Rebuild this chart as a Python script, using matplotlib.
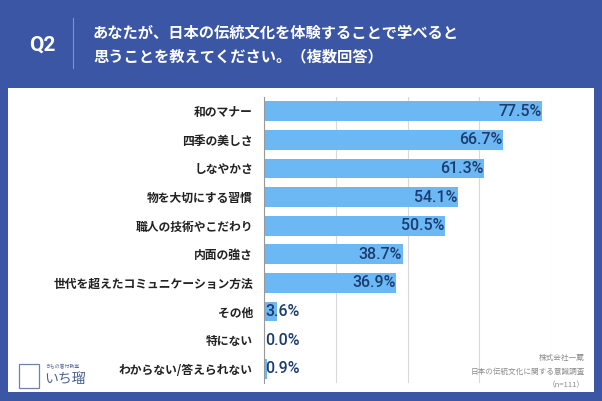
import matplotlib.pyplot as plt
from matplotlib.patches import Rectangle

plt.rcParams['font.family'] = ['Noto Sans CJK JP', 'DejaVu Sans']

# データ
categories = ['和のマナー', '四季の美しさ', 'しなやかさ', '物を大切にする習慣',
              '職人の技術やこだわり', '内面の強さ', '世代を超えたコミュニケーション方法',
              'その他', '特にない', 'わからない/答えられない']
values = [77.5, 66.7, 61.3, 54.1, 50.5, 38.7, 36.9, 3.6, 0.0, 0.9]
x_ticks = [0, 20, 40, 60, 80]

W, H = 602, 401
fig = plt.figure(figsize=(W / 100, H / 100), dpi=100)
fig.patch.set_facecolor('#3b56a5')

# 白いパネル
fig.patches.append(Rectangle((8 / W, 1 - 392 / H), (594 - 8) / W, (392 - 88) / H,
                             transform=fig.transFigure, facecolor='white',
                             edgecolor='none', zorder=-5))

# タイトル
fig.text(42 / W, 1 - 45 / H, 'Q2', color='white', fontsize=15, fontweight='bold',
         ha='center', va='center', family=['Roboto', 'DejaVu Sans'])
fig.add_artist(plt.Line2D([73 / W, 73 / W], [1 - 18 / H, 1 - 68 / H],
                          transform=fig.transFigure, color='#7f93c8', lw=0.8))
fig.text(93 / W, 1 - 33 / H, 'あなたが、日本の伝統文化を体験することで学べると',
         color='white', fontsize=11, fontweight='bold', va='center')
fig.text(93 / W, 1 - 56 / H, '思うことを教えてください。（複数回答）',
         color='white', fontsize=11, fontweight='bold', va='center')

# グラフ
ax = fig.add_axes([264 / W, 1 - 383 / H, (551 - 264) / W, (383 - 97) / H], zorder=2)
y = list(range(len(categories)))
ax.barh(y, values, height=0.69, color='#6cb8f5', zorder=2)
ax.set_xlim(0, 80)
ax.set_ylim(len(categories) - 0.5, -0.5)
ax.set_xticks(x_ticks)
ax.xaxis.grid(True, color='#d9d9d9', lw=0.8, zorder=0)
ax.tick_params(axis='x', length=0, labelbottom=False)
ax.tick_params(axis='y', length=0, pad=8)
ax.set_yticks(y)
ax.set_yticklabels(categories, fontsize=8.5, fontweight='bold', color='#222222')
for s in ['top', 'right', 'bottom']:
    ax.spines[s].set_visible(False)
ax.spines['left'].set_color('#999999')
ax.spines['left'].set_linewidth(0.8)
ax.set_facecolor('none')

for i, v in enumerate(values):
    label = f'{v:.1f}%'
    if v > 10:
        ax.text(v - 0.2, i, label, ha='right', va='center', fontsize=11.5,
                fontweight='medium', color='#1c3d6e',
                family=['Roboto', 'DejaVu Sans'], zorder=3)
    else:
        ax.text(0.3, i, label, ha='left', va='center', fontsize=11.5,
                fontweight='medium', color='#1c3d6e',
                family=['Roboto', 'DejaVu Sans'], zorder=3)

# 出典
for k, t in enumerate(['株式会社一蔵', '日本の伝統文化に関する意識調査', '（n=111）']):
    fig.text(585 / W, 1 - (358 + 13.5 * k) / H, t, ha='right', va='center',
             fontsize=5.5, color='#8a8a8a')

# ロゴ
fig.text(45 / W, 1 - 367 / H, 'きもの着付教室', fontsize=3.5, color='#5a6f9c', va='center')
fig.text(44 / W, 1 - 379 / H, 'いち瑠', fontsize=10, color='#4a6394', va='center')
fig.patches.append(Rectangle((19 / W, 1 - 388 / H), 20 / W, 24 / H,
                             transform=fig.transFigure, facecolor='none',
                             edgecolor='#6f83aa', lw=0.9))

fig.savefig('out.png', dpi=100, facecolor=fig.get_facecolor())
